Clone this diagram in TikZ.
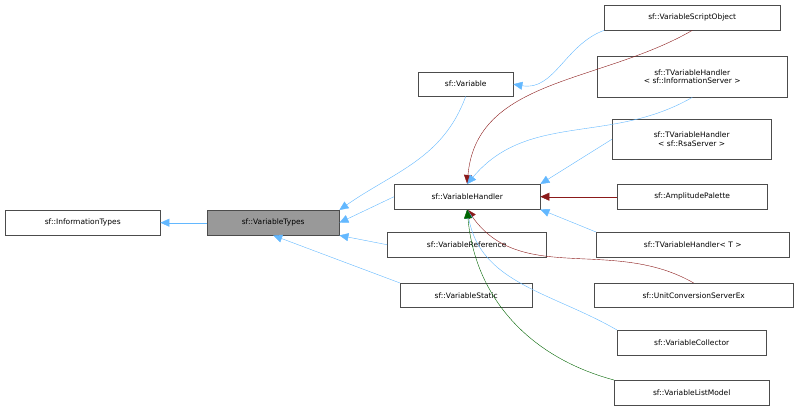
\documentclass[tikz,border=0pt]{standalone}
\usepackage{fontspec}
\setmainfont{DejaVu Sans}
\usetikzlibrary{arrows.meta}
\definecolor{edgeblue}{HTML}{63B8FF}
\definecolor{edgered}{HTML}{8B1A1A}
\definecolor{edgegreen}{HTML}{006400}
\begin{document}
\begin{tikzpicture}
        [x=1pt,y=-1pt,
        cls/.style={rectangle,draw=black!70,fill=white,font=\fontsize{7.5}{8.5}\selectfont,
          inner sep=0pt,align=center,anchor=north west},
        inh/.style={draw=edgeblue,-{Triangle[length=9pt,width=8pt,fill=edgeblue]}},
        inhred/.style={draw=edgered,-{Triangle[length=9pt,width=8pt,fill=edgered]}},
        inhgreen/.style={draw=edgegreen,-{Triangle[length=9pt,width=8pt,fill=edgegreen]}},
        ]
        \useasboundingbox (0,0) rectangle (799,412);

        \node[cls,minimum width=155pt,minimum height=25pt] (infotypes) at (5,210) {sf::InformationTypes};
        \node[cls,minimum width=132pt,minimum height=25pt,fill=black!40] (vartypes) at (207,210) {sf::VariableTypes};
        \node[cls,minimum width=95pt,minimum height=24pt] (variable) at (418,72) {sf::Variable};
        \node[cls,minimum width=146pt,minimum height=25pt] (handler) at (394,184) {sf::VariableHandler};
        \node[cls,minimum width=159pt,minimum height=25pt] (reference) at (387,232) {sf::VariableReference};
        \node[cls,minimum width=132pt,minimum height=24pt] (static) at (400,283) {sf::VariableStatic};

        \node[cls,minimum width=176pt,minimum height=25pt] (scriptobj) at (604,5) {sf::VariableScriptObject};
        \node[cls,minimum width=190pt,minimum height=41pt] (tvhinfo) at (597,56) {sf::TVariableHandler\\\textless{} sf::InformationServer \textgreater};
        \node[cls,minimum width=159pt,minimum height=40pt] (tvhrsa) at (612,119) {sf::TVariableHandler\\\textless{} sf::RsaServer \textgreater};
        \node[cls,minimum width=150pt,minimum height=25pt] (amplitude) at (617,184) {sf::AmplitudePalette};
        \node[cls,minimum width=193pt,minimum height=25pt] (tvht) at (596,232) {sf::TVariableHandler\textless{} T \textgreater};
        \node[cls,minimum width=199pt,minimum height=24pt] (unitconv) at (594,283) {sf::UnitConversionServerEx};
        \node[cls,minimum width=149pt,minimum height=25pt] (collector) at (617,330) {sf::VariableCollector};
        \node[cls,minimum width=155pt,minimum height=25pt] (listmodel) at (614,380) {sf::VariableListModel};

        % inheritance edges
        \draw[inh] (vartypes) -- (infotypes);
        \draw[inh] (variable.south) to[out=-110,in=35] (vartypes.north east);
        \draw[inh] (handler.west) -- (vartypes.east);
        \draw[inh] (reference.west) -- (vartypes.south east);
        \draw[inh] (static.north west) -- (vartypes.south);
        \draw[inh] (scriptobj.south west) to[out=-160,in=-10] (variable.east);
        \draw[inhred] (scriptobj.south) to[out=-150,in=85] (handler.north);
        \draw[inh] (tvhinfo.south) to[out=-150,in=50] (handler.north);
        \draw[inh] (tvhrsa.west) -- (handler.north east);
        \draw[inhred] (amplitude.west) -- (handler.east);
        \draw[inh] (tvht.north west) -- (handler.south east);
        \draw[inhred] (unitconv.north) to[out=150,in=-55] (handler.south);
        \draw[inh] (collector.north west) to[out=150,in=-80] (handler.south);
        \draw[inhgreen] (listmodel.north west) to[out=165,in=-85] (handler.south);
\end{tikzpicture}
\end{document}
